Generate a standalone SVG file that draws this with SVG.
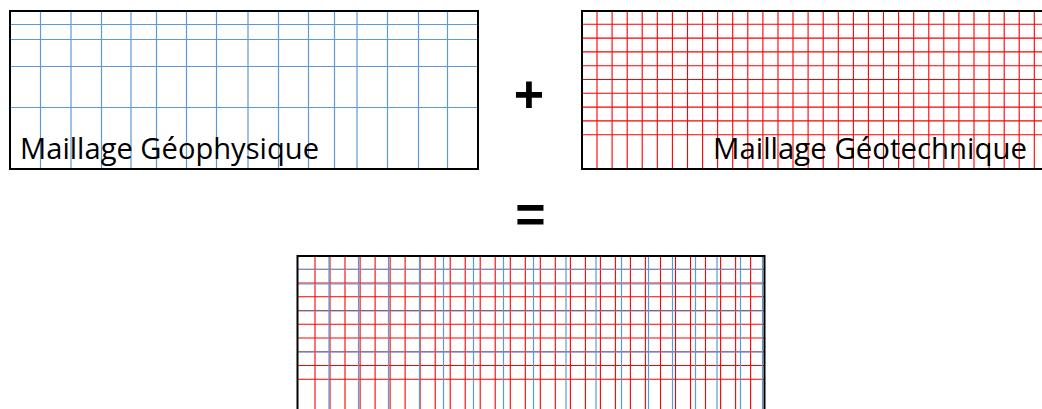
<svg xmlns="http://www.w3.org/2000/svg" width="1042" height="409" viewBox="0 0 1042 409">
<style>
.bg{fill:#ffffff}
.frame{fill:none;stroke:#000000;stroke-width:2}
.b{stroke:#5B9BD5;stroke-width:1.2;fill:none}
.r{stroke:#FF0000;stroke-width:1.1;fill:none}
.lbl{font-family:"Open Sans","Noto Sans","Liberation Sans",sans-serif;font-size:29.5px;fill:#000000}
.op{font-family:"Liberation Sans","Arial",sans-serif;font-weight:bold;fill:#000000;text-anchor:middle}
</style>
<rect x="0" y="0" width="1042" height="409" fill="#ffffff"/>

<g id="geophysique">
  <rect class="bg" x="10" y="11" width="468" height="158"/>
  <path class="b" d="M40.5 11V169M71 11V169M101.5 11V169M131 11V169M156.5 11V169M186.5 11V169M216.5 11V169M248 11V169M278.5 11V169M308.5 11V169M334.5 11V169M357 11V169M387.5 11V169M418.5 11V169M447.5 11V169"/>
  <path class="b" d="M10 24.5H478M10 39.5H478M10 66.5H478M10 107.5H478"/>
  <rect class="frame" x="10" y="11" width="468" height="158"/>
  <text class="lbl" x="20" y="158.5" textLength="299" lengthAdjust="spacingAndGlyphs">Maillage Géophysique</text>
</g>

<g id="plus">
  <text class="op" x="529" y="112" font-size="52">+</text>
</g>

<g id="geotechnique">
  <rect class="bg" x="582" y="11" width="470" height="158"/>
  <path class="r" d="M597 11V169M612.1 11V169M627.2 11V169M642.2 11V169M657.3 11V169M672.4 11V169M687.5 11V169M702.6 11V169M717.6 11V169M732.7 11V169M747.8 11V169M762.9 11V169M778 11V169M793 11V169M808.1 11V169M823.2 11V169M838.3 11V169M853.4 11V169M868.4 11V169M883.5 11V169M898.6 11V169M913.7 11V169M928.8 11V169M943.8 11V169M958.9 11V169M974 11V169M989.1 11V169M1004.2 11V169M1019.2 11V169M1034.3 11V169"/>
  <path class="r" d="M581 24.3H1052M581 38.1H1052M581 51.9H1052M581 65.7H1052M581 79.5H1052M581 93.3H1052M581 107.1H1052M581 120.9H1052M581 134.7H1052"/>
  <rect class="frame" x="582" y="11" width="470" height="158"/>
  <text class="lbl" x="713" y="158.5" textLength="314" lengthAdjust="spacingAndGlyphs">Maillage Géotechnique</text>
</g>

<g id="equals">
  <text class="op" x="530.5" y="232" font-size="52">=</text>
</g>

<g id="combine">
  <rect class="bg" x="297.5" y="256" width="467" height="160"/>
  <path class="r" d="M315 256V416M330 256V416M345 256V416M360.1 256V416M375.1 256V416M390.1 256V416M405.1 256V416M420.1 256V416M435.2 256V416M450.2 256V416M465.2 256V416M480.2 256V416M495.2 256V416M510.3 256V416M525.3 256V416M540.3 256V416M555.3 256V416M570.4 256V416M585.4 256V416M600.4 256V416M615.4 256V416M630.4 256V416M645.4 256V416M660.5 256V416M675.5 256V416M690.5 256V416M705.5 256V416M720.6 256V416M735.6 256V416M750.6 256V416"/>
  <path class="r" d="M298 269.3H764M298 283H764M298 296.8H764M298 310.5H764M298 324.3H764M298 338H764M298 351.8H764M298 365.5H764M298 379.3H764"/>
  <path class="b" d="M329 256V416M358.5 256V416M388.5 256V416M419.5 256V416M443.5 256V416M473.5 256V416M503.5 256V416M533.5 256V416M566 256V416M596 256V416M621.5 256V416M648.5 256V416M672.5 256V416M695.5 256V416M717 256V416M740.5 256V416M762.5 256V416"/>
  <path class="b" d="M298 269.5H764M298 284H764M298 311H764M298 352H764"/>
  <rect class="frame" x="297.5" y="256" width="467" height="160" stroke-width="2.4"/>
</g>
</svg>
